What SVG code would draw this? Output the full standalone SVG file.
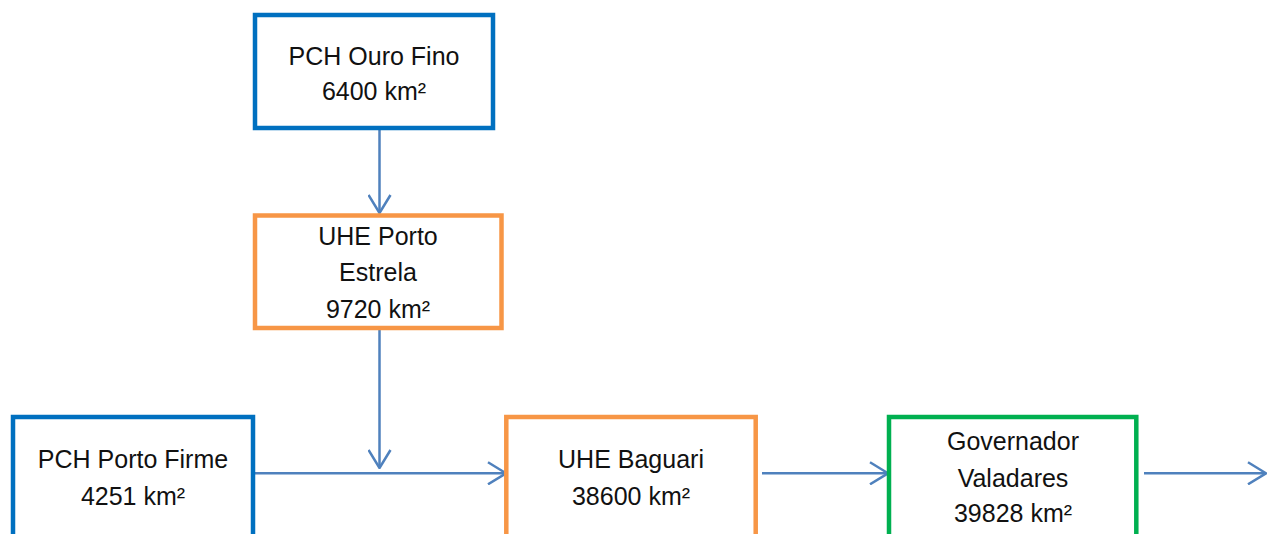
<svg xmlns="http://www.w3.org/2000/svg" width="1267" height="534" viewBox="0 0 1267 534">
<style>
.box{fill:#fff;stroke-width:4.5}
.blue{stroke:#0070C0}
.orange{stroke:#F79646}
.green{stroke:#00B050}
text{font-family:"Liberation Sans",Arial,sans-serif;font-size:25px;fill:#111;text-anchor:middle}
.conn line{stroke:#4F81BD;stroke-width:2.5;fill:none}
</style>
<defs>
<marker id="arr" viewBox="0 0 20 24" refX="19" refY="12" markerWidth="20" markerHeight="24" markerUnits="userSpaceOnUse" orient="auto">
<path d="M1,1 L19,12 L1,23" fill="none" stroke="#4F81BD" stroke-width="2.5"/>
</marker>
</defs>
<rect width="1267" height="534" fill="#fff"/>
<g class="conn">
<line x1="379.5" y1="130" x2="379.5" y2="213" marker-end="url(#arr)"/>
<line x1="379.5" y1="330" x2="379.5" y2="468" marker-end="url(#arr)"/>
<line x1="254" y1="473.3" x2="506" y2="473.3" marker-end="url(#arr)"/>
<line x1="762" y1="473.3" x2="888" y2="473.3" marker-end="url(#arr)"/>
<line x1="1144" y1="473.3" x2="1266" y2="473.3" marker-end="url(#arr)"/>
</g>
<g id="ouro-fino">
<rect class="box blue" x="255" y="15" width="238" height="113"/>
<text x="374" y="65">PCH Ouro Fino</text>
<text x="374" y="100">6400 km²</text>
</g>
<g id="porto-estrela">
<rect class="box orange" x="255" y="215.5" width="246.5" height="112.5"/>
<text x="378" y="245">UHE Porto</text>
<text x="378" y="281">Estrela</text>
<text x="378" y="318">9720 km²</text>
</g>
<g id="porto-firme">
<rect class="box blue" x="13" y="417" width="240" height="140"/>
<text x="133" y="468">PCH Porto Firme</text>
<text x="133" y="505">4251 km²</text>
</g>
<g id="baguari">
<rect class="box orange" x="506.3" y="417" width="249.4" height="140"/>
<text x="631" y="468">UHE Baguari</text>
<text x="631" y="505">38600 km²</text>
</g>
<g id="valadares">
<rect class="box green" x="889" y="417" width="247.3" height="140"/>
<text x="1013" y="450">Governador</text>
<text x="1013" y="487">Valadares</text>
<text x="1013" y="522">39828 km²</text>
</g>
</svg>
